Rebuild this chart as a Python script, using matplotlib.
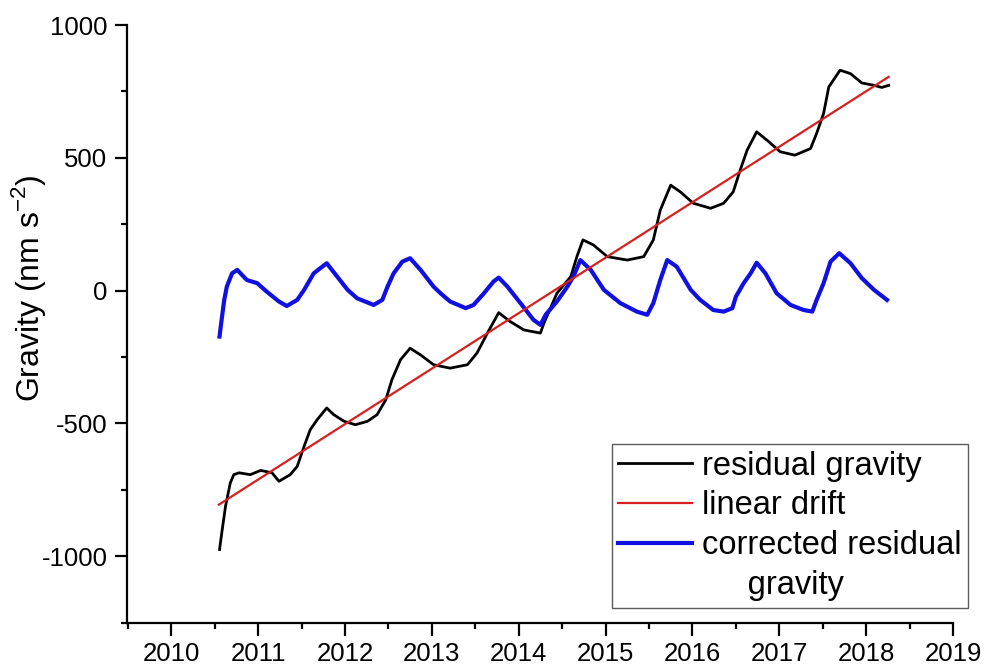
import numpy as np
import matplotlib
matplotlib.use("Agg")
import matplotlib.pyplot as plt
from matplotlib.ticker import MultipleLocator
from matplotlib.lines import Line2D

plt.rcParams['font.family'] = ['Liberation Sans', 'DejaVu Sans']
plt.rcParams['mathtext.fontset'] = 'custom'
plt.rcParams['mathtext.rm'] = 'Liberation Sans'
plt.rcParams['axes.unicode_minus'] = False

# residual gravity
res_year = [2010.556, 2010.587, 2010.625, 2010.68, 2010.72, 2010.78, 2010.91, 2011.03,
            2011.16, 2011.24, 2011.37, 2011.45, 2011.53, 2011.60, 2011.68, 2011.79,
            2011.87, 2011.99, 2012.12, 2012.26, 2012.37, 2012.47, 2012.54, 2012.64,
            2012.75, 2012.87, 2013.02, 2013.21, 2013.41, 2013.52, 2013.64, 2013.77,
            2013.90, 2014.06, 2014.25, 2014.29, 2014.44, 2014.60, 2014.67, 2014.74,
            2014.86, 2015.02, 2015.25, 2015.44, 2015.55, 2015.63, 2015.75, 2015.86,
            2016.01, 2016.21, 2016.36, 2016.47, 2016.55, 2016.63, 2016.74, 2016.86,
            2017.01, 2017.18, 2017.36, 2017.43, 2017.51, 2017.57, 2017.70, 2017.82,
            2017.95, 2018.09, 2018.18, 2018.26]
res_val = [-975, -900, -812, -724, -693, -686, -693, -677,
           -686, -718, -693, -662, -586, -524, -486, -442,
           -467, -492, -505, -492, -467, -411, -336, -260,
           -217, -242, -279, -292, -279, -235, -160, -83,
           -116, -148, -160, -123, -10, 53, 128, 191,
           172, 128, 115, 128, 191, 303, 397, 372,
           329, 310, 329, 372, 454, 529, 598, 566,
           523, 510, 535, 592, 667, 767, 830, 817,
           782, 773, 765, 773]

# linear drift end points
drift_year = [2010.548, 2018.26]
drift_val = [-806, 805]

# corrected residual gravity
cor_year = [2010.556, 2010.57, 2010.61, 2010.64, 2010.70, 2010.76, 2010.87, 2010.99,
            2011.10, 2011.24, 2011.33, 2011.45, 2011.53, 2011.64, 2011.79, 2011.91,
            2012.03, 2012.14, 2012.33, 2012.43, 2012.49, 2012.56, 2012.66, 2012.75,
            2012.87, 2013.02, 2013.10, 2013.21, 2013.39, 2013.48, 2013.60, 2013.71,
            2013.77, 2013.87, 2014.02, 2014.17, 2014.25, 2014.31, 2014.44, 2014.56,
            2014.63, 2014.71, 2014.83, 2014.98, 2015.17, 2015.36, 2015.48, 2015.55,
            2015.63, 2015.71, 2015.82, 2015.98, 2016.09, 2016.24, 2016.36, 2016.46,
            2016.50, 2016.59, 2016.67, 2016.74, 2016.84, 2016.97, 2017.13, 2017.28,
            2017.38, 2017.43, 2017.51, 2017.59, 2017.69, 2017.82, 2017.95, 2018.09,
            2018.24]
cor_val = [-173, -135, -35, 15, 65, 78, 40, 28,
           -4, -41, -58, -35, 3, 65, 103, 53,
           3, -29, -54, -35, 15, 65, 109, 122,
           78, 15, -10, -41, -66, -54, -10, 34,
           49, 15, -47, -110, -129, -91, -41, 15,
           53, 115, 78, 3, -47, -79, -91, -47,
           40, 115, 90, 3, -35, -73, -79, -66,
           -23, 28, 65, 105, 65, -10, -54, -73,
           -79, -35, 28, 109, 141, 103, 47, 3,
           -35]

fig = plt.figure(figsize=(9.84, 6.68), dpi=100)
ax = fig.add_axes([0.129, 0.068, 0.8395, 0.8945])

l1, = ax.plot(res_year, res_val, color="black", lw=2.0, zorder=2)
l2, = ax.plot(drift_year, drift_val, color="#d62020", lw=1.6, zorder=3)
l3, = ax.plot(cor_year, cor_val, color="#1010e0", lw=3.0, zorder=2)

ax.set_xlim(2009.49, 2019)
ax.set_ylim(-1250, 1000)
ax.xaxis.set_major_locator(MultipleLocator(1))
ax.xaxis.set_minor_locator(MultipleLocator(0.5))
ax.yaxis.set_major_locator(MultipleLocator(500))
ax.yaxis.set_minor_locator(MultipleLocator(250))
ax.xaxis.set_major_formatter(matplotlib.ticker.FuncFormatter(lambda v, p: "%d" % v))

for s in ["top", "right"]:
    ax.spines[s].set_visible(False)
for s in ["left", "bottom"]:
    ax.spines[s].set_linewidth(1.6)
ax.tick_params(which="major", direction="out", length=9, width=1.6, labelsize=18.5, pad=5)
ax.tick_params(which="minor", direction="out", length=4.5, width=1.6)

ax.set_ylabel("Gravity (nm s$^{\\mathregular{-2}}$)", fontsize=23)
ax.yaxis.set_label_coords(-0.096, 0.56)

# second line of the blue label gets its own (empty) row so the handle sits on the first line
blank = Line2D([], [], color="none")
leg = ax.legend([l1, l2, l3, blank],
                ["residual gravity", "linear drift", "corrected residual", "     gravity"],
                loc="lower left", bbox_to_anchor=(0.587, 0.025), fontsize=23.5,
                frameon=True, fancybox=False, edgecolor="#333333",
                handlelength=2.25, handletextpad=0.3, borderpad=0.2,
                labelspacing=0.27, borderaxespad=0)
leg.get_frame().set_linewidth(1.0)

fig.savefig("out.png", dpi=100)
